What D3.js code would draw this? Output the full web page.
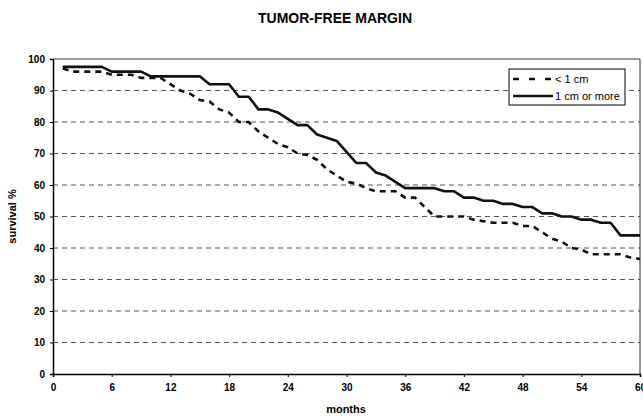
<!DOCTYPE html>
<html>
<head>
<meta charset="utf-8">
<script src="https://cdn.jsdelivr.net/npm/d3@7"></script>
<style>
  body { margin: 0; background: #fff; }
  svg { font-family: "Liberation Sans", Arial, sans-serif; }
</style>
</head>
<body>
<div id="chart"></div>
<script>
const months = d3.range(1, 61);
const lessThan1cm = [97, 96, 96, 96, 96, 95, 95, 95, 94, 94, 94, 92, 90, 89, 87, 86.5, 84, 83, 80, 80,
  77, 75, 73, 72, 70, 69.5, 68, 65, 63, 61, 60.5, 59, 58, 58, 58, 56, 56, 53, 50, 50,
  50, 50, 49, 48.5, 48, 48, 48, 47, 47, 45, 43, 42, 40, 39.5, 38, 38, 38, 38, 37, 36.5];
const oneCmOrMore = [97.5, 97.5, 97.5, 97.5, 97.5, 96, 96, 96, 96, 94.5, 94.5, 94.5, 94.5, 94.5, 94.5, 92, 92, 92, 88, 88,
  84, 84, 83, 81, 79, 79, 76, 75, 74, 70.5, 67, 67, 64, 63, 61, 59, 59, 59, 59, 58,
  58, 56, 56, 55, 55, 54, 54, 53, 53, 51, 51, 50, 50, 49, 49, 48, 48, 44, 44, 44];
const xTicks = d3.range(0, 61, 6);
const yTicks = d3.range(0, 101, 10);
const seriesNames = ['< 1 cm', '1 cm or more'];

const width = 643;
const height = 417;
const margin = { top: 59, right: 3, bottom: 43, left: 53 };

const svg = d3.select('#chart')
  .append('svg')
  .attr('width', width)
  .attr('height', height);

const x = d3.scaleLinear().domain([0, 60]).range([margin.left, width - margin.right]);
const y = d3.scaleLinear().domain([0, 100]).range([height - margin.bottom, margin.top]);

// title and axis labels
svg.append('text')
  .attr('x', 335).attr('y', 23)
  .attr('text-anchor', 'middle')
  .style('font-size', '14px').style('font-weight', 'bold')
  .text('TUMOR-FREE MARGIN');

svg.append('text')
  .attr('x', 346).attr('y', 413)
  .attr('text-anchor', 'middle')
  .style('font-size', '11px').style('font-weight', 'bold')
  .text('months');

svg.append('text')
  .attr('transform', `translate(16, ${(y(0) + y(100)) / 2}) rotate(-90)`)
  .attr('text-anchor', 'middle')
  .style('font-size', '11px').style('font-weight', 'bold')
  .text('survival %');

// gridlines
svg.append('g')
  .selectAll('line')
  .data(yTicks.filter(d => d > 0 && d < 100))
  .enter()
  .append('line')
  .attr('x1', x(0)).attr('x2', x(60))
  .attr('y1', d => y(d)).attr('y2', d => y(d))
  .attr('stroke', '#555')
  .attr('stroke-width', 1)
  .attr('stroke-dasharray', '5,4');

// plot frame (top and right)
svg.append('path')
  .attr('d', `M${x(0)},${y(100)}H${x(60)}V${y(0)}`)
  .attr('fill', 'none')
  .attr('stroke', '#333')
  .attr('stroke-width', 1);

// axes
const xAxis = svg.append('g')
  .attr('transform', `translate(0, ${y(0)})`)
  .call(d3.axisBottom(x).tickValues(xTicks).tickSize(3).tickPadding(7));
const yAxis = svg.append('g')
  .attr('transform', `translate(${x(0)}, 0)`)
  .call(d3.axisLeft(y).tickValues(yTicks).tickSize(3).tickPadding(5));

[xAxis, yAxis].forEach(g => {
  g.select('.domain').attr('stroke', '#000').attr('stroke-width', 1.5);
  g.selectAll('.tick line').attr('stroke', '#000');
  g.selectAll('.tick text')
    .style('font-size', '10px')
    .style('font-weight', 'bold')
    .style('font-family', '"Liberation Sans", Arial, sans-serif')
    .attr('fill', '#000');
});

// series lines
const line = d3.line()
  .x((d, i) => x(months[i]))
  .y(d => y(d));

svg.append('path')
  .datum(lessThan1cm)
  .attr('fill', 'none')
  .attr('stroke', '#111')
  .attr('stroke-width', 2.6)
  .attr('stroke-dasharray', '6,5')
  .attr('d', line);

svg.append('path')
  .datum(oneCmOrMore)
  .attr('fill', 'none')
  .attr('stroke', '#111')
  .attr('stroke-width', 2.6)
  .attr('stroke-linejoin', 'round')
  .attr('d', line);

// legend
const legend = svg.append('g').attr('transform', 'translate(509, 69)');
legend.append('rect')
  .attr('width', 116).attr('height', 36)
  .attr('fill', '#fff')
  .attr('stroke', '#000')
  .attr('stroke-width', 1);

legend.selectAll('.item')
  .data(seriesNames)
  .enter()
  .append('g')
  .attr('class', 'item')
  .attr('transform', (d, i) => `translate(0, ${10 + i * 17})`)
  .each(function (d, i) {
    const g = d3.select(this);
    g.append('line')
      .attr('x1', 4).attr('x2', 44)
      .attr('stroke', '#111')
      .attr('stroke-width', 2.6)
      .attr('stroke-dasharray', i === 0 ? '6,10' : null);
    g.append('text')
      .attr('x', 46).attr('y', 4)
      .style('font-size', '11px')
      .text(d);
  });
</script>
</body>
</html>
